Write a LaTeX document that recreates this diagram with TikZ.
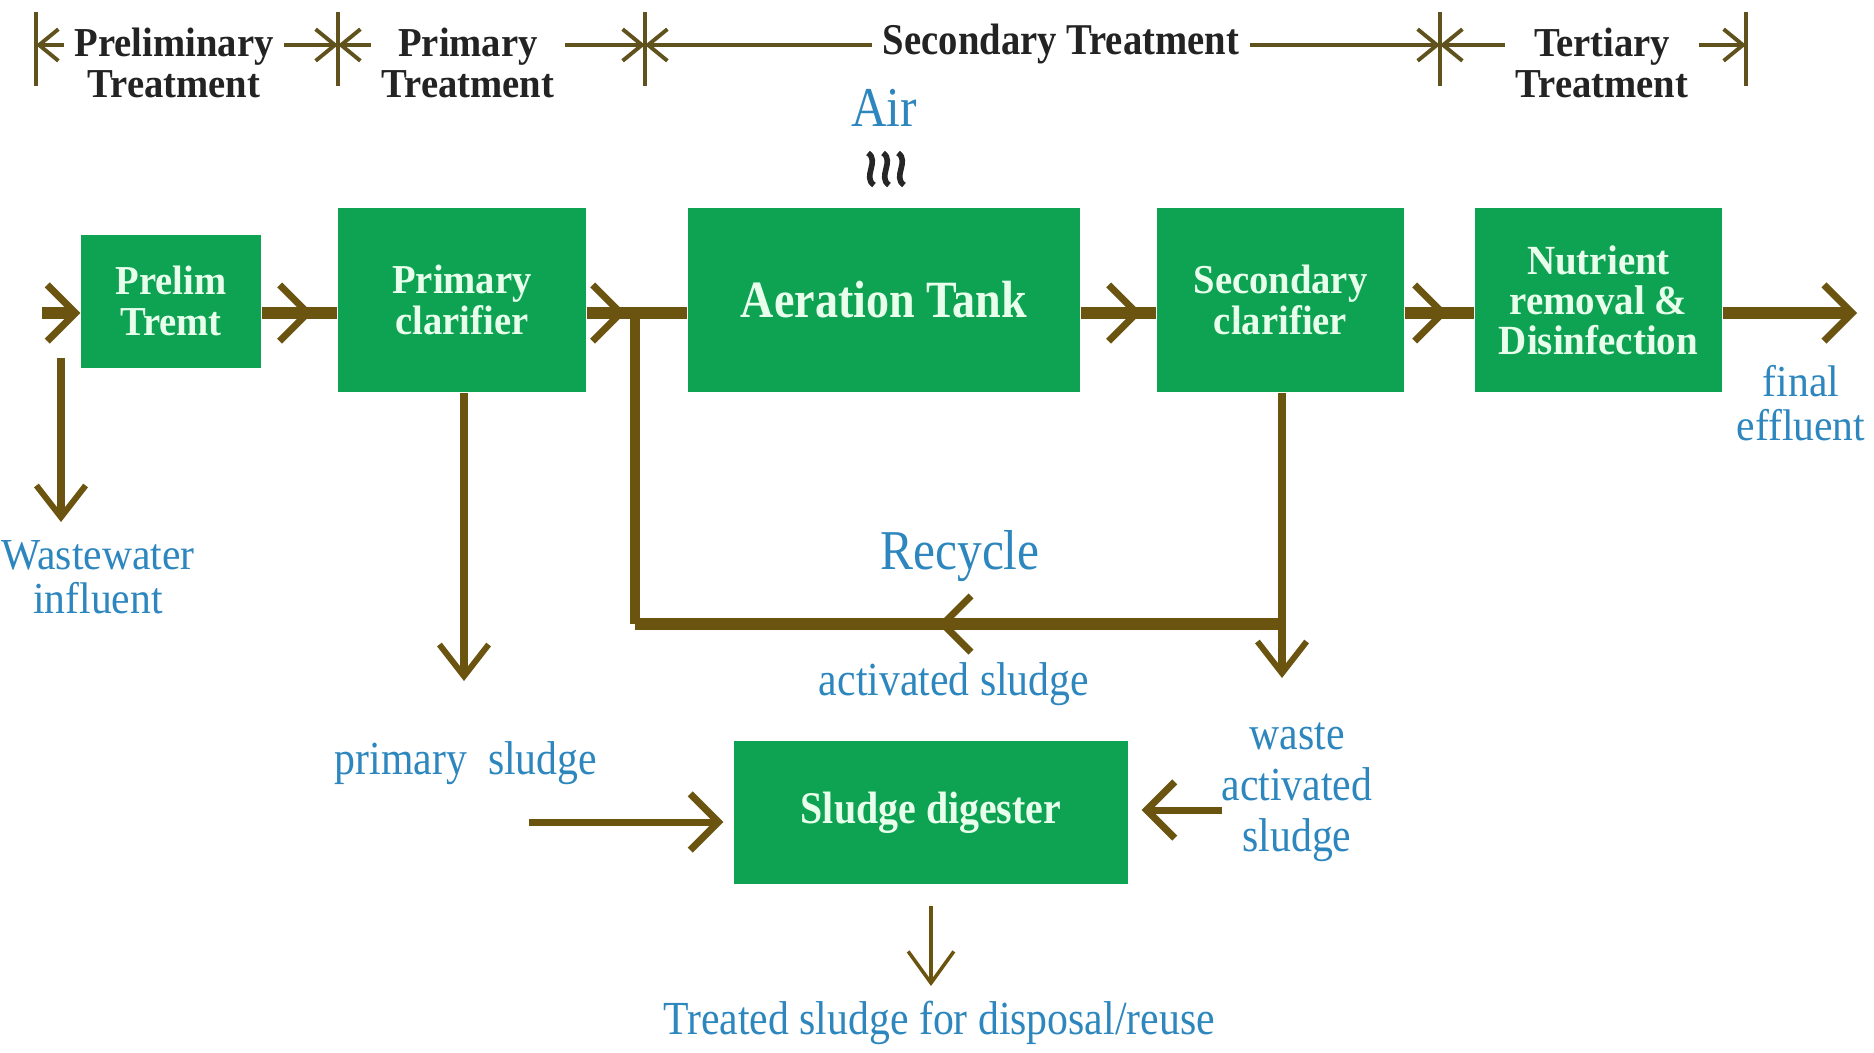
\documentclass[tikz,border=0pt]{standalone}
\usepackage{fontspec}
\setmainfont{Liberation Serif}
\newfontfamily\df[FakeStretch=0.88]{Liberation Serif}
\newfontfamily\dfw[FakeStretch=0.94]{Liberation Serif}
\usetikzlibrary{arrows.meta,decorations.markings,calc}
\definecolor{boxgreen}{RGB}{14,163,82}
\definecolor{flow}{RGB}{107,84,16}
\definecolor{lblue}{RGB}{45,135,190}
\definecolor{btext}{RGB}{232,255,236}
\definecolor{hdrtext}{RGB}{35,35,35}
\definecolor{hdrline}{RGB}{95,82,28}
\tikzset{
  chev/.tip={Straight Barb[length=8pt,width=16pt,line width=2pt]},
  chevs/.tip={Straight Barb[length=9pt,width=14pt,line width=1.7pt]},
  chevt/.tip={Straight Barb[length=9pt,width=13pt,line width=1pt]},
  hchev/.tip={Straight Barb[length=5.5pt,width=9pt,line width=1.1pt]},
  main/.style={draw=flow,line width=3.4pt},
  side/.style={draw=flow,line width=2.4pt},
  thinflow/.style={draw=flow,line width=1.2pt},
  midchev/.style={postaction={decorate},decoration={markings,mark=at position #1 with {\arrow{chev}}}},
  box/.style={fill=boxgreen,text=btext,inner sep=0pt,align=center,
    font=\dfw\bfseries\fontsize{11.7}{11.5}\selectfont},
  lbl/.style={text=lblue,inner sep=0pt,align=center,font=\df\fontsize{13.5}{10.8}\selectfont},
  lbltwo/.style={text=lblue,inner sep=0pt,align=center,font=\dfw\fontsize{12.6}{12.4}\selectfont},
  lblbig/.style={text=lblue,inner sep=0pt,align=center,font=\df\fontsize{16}{16}\selectfont},
  hdrlbl/.style={text=hdrtext,fill=white,inner xsep=3pt,inner ysep=1pt,align=center,
    font=\dfw\bfseries\fontsize{11.7}{11.6}\selectfont},
  hdrln/.style={draw=hdrline,line width=1.3pt},
  tickln/.style={draw=hdrline,line width=1.1pt},
  wave/.style={draw=black!85,line width=1.6pt},
}
\begin{document}
\begin{tikzpicture}[x=0.1mm,y=-0.1mm]
\fill[white] (0,0) rectangle (1874,1052);
\useasboundingbox (0,0) rectangle (1874,1052);

% header
\coordinate (t1) at (36,45);
\coordinate (t2) at (338,45);
\coordinate (t3) at (645,45);
\coordinate (t4) at (1440,45);
\coordinate (t5) at (1746,45);
\foreach \t in {t1,t2,t3,t4,t5}
  \draw[tickln] ($(\t)+(0,-33)$) -- ($(\t)+(0,41)$);
\draw[hdrln,hchev-hchev] (t1) -- (t2);
\draw[hdrln,hchev-hchev] (t2) -- (t3);
\draw[hdrln,hchev-hchev] (t3) -- (t4);
\draw[hdrln,hchev-hchev] (t4) -- (t5);
\node[hdrlbl] (h1) at (174,63) {Preliminary\\Treatment};
\node[hdrlbl] (h2) at (468,63) {Primary\\Treatment};
\node[hdrlbl,font=\df\bfseries\fontsize{12.5}{12.5}\selectfont] (h3) at (1061,44) {Secondary Treatment};
\node[hdrlbl] (h4) at (1602,63) {Tertiary\\Treatment};

% air
\node[lblbig] (air) at (884,108) {Air};
\foreach \x in {871,886,901}
  \draw[wave] (\x-3,153) .. controls (\x+9,161) and (\x-9,177) .. (\x+3,185);

% boxes
\coordinate (m) at (0,313);
\node[box,minimum width=18mm,minimum height=13.3mm] (prelim) at (171,301) {Prelim\\Tremt};
\node[box,minimum width=24.8mm,minimum height=18.4mm] (primary) at (462,300) {Primary\\clarifier};
\node[box,minimum width=39.2mm,minimum height=18.4mm,font=\df\bfseries\fontsize{14.9}{14.9}\selectfont] (aer) at (884,300) {Aeration Tank};
\node[box,minimum width=24.7mm,minimum height=18.4mm] (sec) at (1280.5,300) {Secondary\\clarifier};
\node[box,minimum width=24.7mm,minimum height=18.4mm,font=\dfw\bfseries\fontsize{11.8}{11.4}\selectfont] (nut) at (1598.5,300) {Nutrient\\removal \&\\Disinfection};
\node[box,minimum width=39.4mm,minimum height=14.3mm,font=\df\bfseries\fontsize{12.9}{12.9}\selectfont] (dig) at (931,812.5) {Sludge digester};

% main flow
\coordinate (in) at (42,313);
\coordinate (out) at (1857,313);
\draw[main,-{chev}] (in) -- (prelim.west |- m);
\draw[main,midchev=5.1mm] (prelim.east |- m) -- (primary.west |- m);
\draw[main,midchev=3.9mm] (primary.east |- m) -- (aer.west |- m);
\draw[main,midchev=6.1mm] (aer.east |- m) -- (sec.west |- m);
\draw[main,midchev=4.3mm] (sec.east |- m) -- (nut.west |- m);
\draw[main,-{chev}] (nut.east |- m) -- (out);

% recycle loop
\coordinate (jn) at (635,313);
\coordinate (lb) at (635,624);
\coordinate (rb) at (1282,624);
\coordinate (wasTip) at (1282,678);
\draw[side,line width=3pt] (lb) -- (jn);
\draw[main,midchev=34.4mm] (rb) -- (lb);
\draw[side,-{chevs}] (sec.south -| rb) -- (wasTip);
\node[lblbig] (rec) at (960,556) {Recycle};
\node[lbl] (as) at (954,684) {activated sludge};

% wastewater influent
\coordinate (wwTop) at (61,358);
\coordinate (wwTip) at (61,522);
\draw[side,-{chevs}] (wwTop) -- (wwTip);
\node[lbltwo] (ww) at (98,577) {Wastewater\\influent};

% primary sludge
\coordinate (psTip) at (464,681);
\draw[side,-{chevs}] (primary.south -| psTip) -- (psTip);
\node[lbl] (ps) at (466,763) {primary\ \ sludge};
\coordinate (psStart) at (529,822);
\draw[side,line width=2pt,-{chev},shorten >=1mm] (psStart) -- (dig.west |- psStart);

% waste activated sludge
\coordinate (waStart) at (1222,810);
\draw[side,line width=2pt,-{chev},shorten >=1.3mm] (waStart) -- (dig.east |- waStart);
\node[lbl,font=\df\fontsize{13.5}{14.5}\selectfont] (was) at (1297,792) {waste\\activated\\sludge};

% final effluent
\node[lbltwo] (fe) at (1801,403) {final\\effluent};

% digester output
\coordinate (tsTip) at (931,986);
\draw[thinflow,-{chevt},shorten <=6] (dig.south) -- (tsTip);
\node[lbl] (ts) at (939,1023) {Treated sludge for disposal/reuse};
\end{tikzpicture}
\end{document}
